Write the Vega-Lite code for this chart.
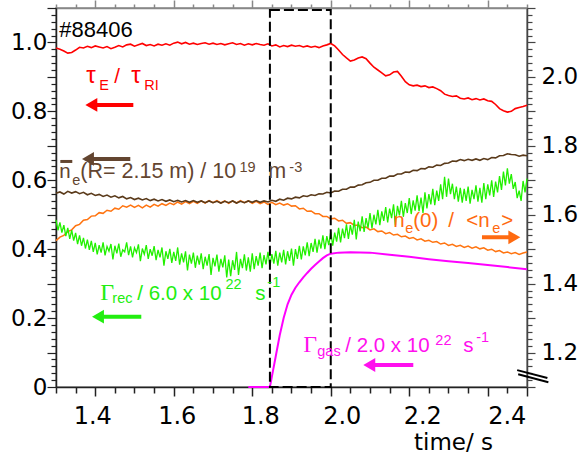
{
"$schema":"https://vega.github.io/schema/vega-lite/v6.json",
"width":471,"height":379,
"autosize":{"type":"none"},
"padding":{"left":56,"top":8,"right":52,"bottom":70},
"background":"white",
"config":{"view":{"stroke":"#888","strokeWidth":1.5},"axis":{"grid":false,"labelOverlap":false,"labelFlush":false,"labelBound":false}},
"datasets":{
"red":[{"t":1.30,"v":0.984},{"t":1.31,"v":0.980},{"t":1.32,"v":0.975},{"t":1.33,"v":0.969},{"t":1.34,"v":0.971},{"t":1.35,"v":0.978},{"t":1.36,"v":0.986},{"t":1.37,"v":0.984},{"t":1.38,"v":0.989},{"t":1.39,"v":0.985},{"t":1.40,"v":0.990},{"t":1.41,"v":0.987},{"t":1.42,"v":0.984},{"t":1.43,"v":0.988},{"t":1.44,"v":0.982},{"t":1.45,"v":0.986},{"t":1.46,"v":0.991},{"t":1.47,"v":0.987},{"t":1.48,"v":0.993},{"t":1.49,"v":0.995},{"t":1.50,"v":0.989},{"t":1.51,"v":0.993},{"t":1.52,"v":0.997},{"t":1.53,"v":0.991},{"t":1.54,"v":0.994},{"t":1.55,"v":0.990},{"t":1.56,"v":0.995},{"t":1.57,"v":0.992},{"t":1.58,"v":0.996},{"t":1.59,"v":0.992},{"t":1.60,"v":0.998},{"t":1.61,"v":1.001},{"t":1.62,"v":0.996},{"t":1.63,"v":1.000},{"t":1.64,"v":0.995},{"t":1.65,"v":0.998},{"t":1.66,"v":0.994},{"t":1.67,"v":0.997},{"t":1.68,"v":0.999},{"t":1.69,"v":0.995},{"t":1.70,"v":0.998},{"t":1.71,"v":0.994},{"t":1.72,"v":0.997},{"t":1.73,"v":0.993},{"t":1.74,"v":0.996},{"t":1.75,"v":0.999},{"t":1.76,"v":0.994},{"t":1.77,"v":0.997},{"t":1.78,"v":0.992},{"t":1.79,"v":0.996},{"t":1.80,"v":0.993},{"t":1.81,"v":0.997},{"t":1.82,"v":0.994},{"t":1.83,"v":0.992},{"t":1.84,"v":0.996},{"t":1.85,"v":0.990},{"t":1.86,"v":0.993},{"t":1.87,"v":0.987},{"t":1.88,"v":0.991},{"t":1.89,"v":0.988},{"t":1.90,"v":0.992},{"t":1.91,"v":0.989},{"t":1.92,"v":0.991},{"t":1.93,"v":0.987},{"t":1.94,"v":0.990},{"t":1.95,"v":0.986},{"t":1.96,"v":0.989},{"t":1.97,"v":0.985},{"t":1.98,"v":0.990},{"t":1.99,"v":0.993},{"t":2.00,"v":0.997},{"t":2.01,"v":0.990},{"t":2.02,"v":0.978},{"t":2.03,"v":0.965},{"t":2.04,"v":0.955},{"t":2.05,"v":0.946},{"t":2.06,"v":0.949},{"t":2.07,"v":0.955},{"t":2.08,"v":0.958},{"t":2.09,"v":0.953},{"t":2.10,"v":0.940},{"t":2.11,"v":0.928},{"t":2.12,"v":0.920},{"t":2.13,"v":0.912},{"t":2.14,"v":0.903},{"t":2.15,"v":0.906},{"t":2.16,"v":0.914},{"t":2.17,"v":0.916},{"t":2.18,"v":0.902},{"t":2.19,"v":0.886},{"t":2.20,"v":0.877},{"t":2.21,"v":0.874},{"t":2.22,"v":0.876},{"t":2.23,"v":0.872},{"t":2.24,"v":0.874},{"t":2.25,"v":0.869},{"t":2.26,"v":0.871},{"t":2.27,"v":0.866},{"t":2.28,"v":0.860},{"t":2.29,"v":0.850},{"t":2.30,"v":0.846},{"t":2.31,"v":0.843},{"t":2.32,"v":0.845},{"t":2.33,"v":0.838},{"t":2.34,"v":0.836},{"t":2.35,"v":0.839},{"t":2.36,"v":0.834},{"t":2.37,"v":0.837},{"t":2.38,"v":0.833},{"t":2.39,"v":0.836},{"t":2.40,"v":0.831},{"t":2.41,"v":0.829},{"t":2.42,"v":0.820},{"t":2.43,"v":0.808},{"t":2.44,"v":0.802},{"t":2.45,"v":0.798},{"t":2.46,"v":0.800},{"t":2.47,"v":0.808},{"t":2.48,"v":0.811},{"t":2.49,"v":0.814},{"t":2.50,"v":0.818}],
"brown":[{"t":1.30,"v":0.562},{"t":1.31,"v":0.566},{"t":1.32,"v":0.560},{"t":1.33,"v":0.568},{"t":1.34,"v":0.563},{"t":1.35,"v":0.567},{"t":1.36,"v":0.561},{"t":1.37,"v":0.565},{"t":1.38,"v":0.558},{"t":1.39,"v":0.562},{"t":1.40,"v":0.556},{"t":1.41,"v":0.559},{"t":1.42,"v":0.553},{"t":1.43,"v":0.557},{"t":1.44,"v":0.551},{"t":1.45,"v":0.555},{"t":1.46,"v":0.549},{"t":1.47,"v":0.553},{"t":1.48,"v":0.546},{"t":1.49,"v":0.550},{"t":1.50,"v":0.544},{"t":1.51,"v":0.548},{"t":1.52,"v":0.543},{"t":1.53,"v":0.547},{"t":1.54,"v":0.541},{"t":1.55,"v":0.545},{"t":1.56,"v":0.540},{"t":1.57,"v":0.544},{"t":1.58,"v":0.539},{"t":1.59,"v":0.543},{"t":1.60,"v":0.538},{"t":1.61,"v":0.542},{"t":1.62,"v":0.537},{"t":1.63,"v":0.541},{"t":1.64,"v":0.536},{"t":1.65,"v":0.541},{"t":1.66,"v":0.536},{"t":1.67,"v":0.540},{"t":1.68,"v":0.535},{"t":1.69,"v":0.540},{"t":1.70,"v":0.535},{"t":1.71,"v":0.539},{"t":1.72,"v":0.534},{"t":1.73,"v":0.539},{"t":1.74,"v":0.535},{"t":1.75,"v":0.540},{"t":1.76,"v":0.534},{"t":1.77,"v":0.539},{"t":1.78,"v":0.535},{"t":1.79,"v":0.540},{"t":1.80,"v":0.536},{"t":1.81,"v":0.541},{"t":1.82,"v":0.536},{"t":1.83,"v":0.540},{"t":1.84,"v":0.537},{"t":1.85,"v":0.542},{"t":1.86,"v":0.539},{"t":1.87,"v":0.545},{"t":1.88,"v":0.542},{"t":1.89,"v":0.548},{"t":1.90,"v":0.546},{"t":1.91,"v":0.551},{"t":1.92,"v":0.549},{"t":1.93,"v":0.555},{"t":1.94,"v":0.553},{"t":1.95,"v":0.558},{"t":1.96,"v":0.556},{"t":1.97,"v":0.561},{"t":1.98,"v":0.560},{"t":1.99,"v":0.565},{"t":2.00,"v":0.563},{"t":2.01,"v":0.569},{"t":2.02,"v":0.568},{"t":2.03,"v":0.574},{"t":2.04,"v":0.574},{"t":2.05,"v":0.580},{"t":2.06,"v":0.580},{"t":2.07,"v":0.586},{"t":2.08,"v":0.587},{"t":2.09,"v":0.593},{"t":2.10,"v":0.594},{"t":2.11,"v":0.600},{"t":2.12,"v":0.600},{"t":2.13,"v":0.606},{"t":2.14,"v":0.606},{"t":2.15,"v":0.612},{"t":2.16,"v":0.612},{"t":2.17,"v":0.618},{"t":2.18,"v":0.618},{"t":2.19,"v":0.624},{"t":2.20,"v":0.623},{"t":2.21,"v":0.629},{"t":2.22,"v":0.628},{"t":2.23,"v":0.634},{"t":2.24,"v":0.633},{"t":2.25,"v":0.639},{"t":2.26,"v":0.638},{"t":2.27,"v":0.644},{"t":2.28,"v":0.643},{"t":2.29,"v":0.649},{"t":2.30,"v":0.650},{"t":2.31,"v":0.656},{"t":2.32,"v":0.655},{"t":2.33,"v":0.660},{"t":2.34,"v":0.657},{"t":2.35,"v":0.661},{"t":2.36,"v":0.658},{"t":2.37,"v":0.662},{"t":2.38,"v":0.658},{"t":2.39,"v":0.663},{"t":2.40,"v":0.660},{"t":2.41,"v":0.666},{"t":2.42,"v":0.665},{"t":2.43,"v":0.671},{"t":2.44,"v":0.672},{"t":2.45,"v":0.677},{"t":2.46,"v":0.675},{"t":2.47,"v":0.674},{"t":2.48,"v":0.670},{"t":2.49,"v":0.673},{"t":2.50,"v":0.671}],
"orange":[{"t":1.30,"v":1.525},{"t":1.31,"v":1.535},{"t":1.32,"v":1.540},{"t":1.33,"v":1.551},{"t":1.34,"v":1.556},{"t":1.35,"v":1.568},{"t":1.36,"v":1.572},{"t":1.37,"v":1.584},{"t":1.38,"v":1.586},{"t":1.39,"v":1.596},{"t":1.40,"v":1.597},{"t":1.41,"v":1.606},{"t":1.42,"v":1.604},{"t":1.43,"v":1.613},{"t":1.44,"v":1.610},{"t":1.45,"v":1.619},{"t":1.46,"v":1.616},{"t":1.47,"v":1.626},{"t":1.48,"v":1.622},{"t":1.49,"v":1.628},{"t":1.50,"v":1.621},{"t":1.51,"v":1.627},{"t":1.52,"v":1.620},{"t":1.53,"v":1.628},{"t":1.54,"v":1.622},{"t":1.55,"v":1.630},{"t":1.56,"v":1.625},{"t":1.57,"v":1.632},{"t":1.58,"v":1.627},{"t":1.59,"v":1.634},{"t":1.60,"v":1.629},{"t":1.61,"v":1.637},{"t":1.62,"v":1.631},{"t":1.63,"v":1.638},{"t":1.64,"v":1.632},{"t":1.65,"v":1.639},{"t":1.66,"v":1.633},{"t":1.67,"v":1.640},{"t":1.68,"v":1.634},{"t":1.69,"v":1.641},{"t":1.70,"v":1.635},{"t":1.71,"v":1.641},{"t":1.72,"v":1.634},{"t":1.73,"v":1.640},{"t":1.74,"v":1.633},{"t":1.75,"v":1.640},{"t":1.76,"v":1.634},{"t":1.77,"v":1.641},{"t":1.78,"v":1.635},{"t":1.79,"v":1.640},{"t":1.80,"v":1.633},{"t":1.81,"v":1.639},{"t":1.82,"v":1.632},{"t":1.83,"v":1.637},{"t":1.84,"v":1.630},{"t":1.85,"v":1.636},{"t":1.86,"v":1.629},{"t":1.87,"v":1.634},{"t":1.88,"v":1.628},{"t":1.89,"v":1.632},{"t":1.90,"v":1.625},{"t":1.91,"v":1.626},{"t":1.92,"v":1.617},{"t":1.93,"v":1.619},{"t":1.94,"v":1.610},{"t":1.95,"v":1.611},{"t":1.96,"v":1.603},{"t":1.97,"v":1.603},{"t":1.98,"v":1.595},{"t":1.99,"v":1.595},{"t":2.00,"v":1.588},{"t":2.01,"v":1.590},{"t":2.02,"v":1.582},{"t":2.03,"v":1.584},{"t":2.04,"v":1.575},{"t":2.05,"v":1.577},{"t":2.06,"v":1.569},{"t":2.07,"v":1.570},{"t":2.08,"v":1.562},{"t":2.09,"v":1.564},{"t":2.10,"v":1.556},{"t":2.11,"v":1.559},{"t":2.12,"v":1.551},{"t":2.13,"v":1.553},{"t":2.14,"v":1.545},{"t":2.15,"v":1.548},{"t":2.16,"v":1.541},{"t":2.17,"v":1.543},{"t":2.18,"v":1.536},{"t":2.19,"v":1.538},{"t":2.20,"v":1.531},{"t":2.21,"v":1.534},{"t":2.22,"v":1.527},{"t":2.23,"v":1.530},{"t":2.24,"v":1.523},{"t":2.25,"v":1.526},{"t":2.26,"v":1.520},{"t":2.27,"v":1.522},{"t":2.28,"v":1.515},{"t":2.29,"v":1.518},{"t":2.30,"v":1.511},{"t":2.31,"v":1.514},{"t":2.32,"v":1.508},{"t":2.33,"v":1.511},{"t":2.34,"v":1.505},{"t":2.35,"v":1.509},{"t":2.36,"v":1.503},{"t":2.37,"v":1.507},{"t":2.38,"v":1.501},{"t":2.39,"v":1.504},{"t":2.40,"v":1.497},{"t":2.41,"v":1.500},{"t":2.42,"v":1.493},{"t":2.43,"v":1.496},{"t":2.44,"v":1.489},{"t":2.45,"v":1.492},{"t":2.46,"v":1.487},{"t":2.47,"v":1.490},{"t":2.48,"v":1.485},{"t":2.49,"v":1.489},{"t":2.50,"v":1.492}],
"green":[{"t":1.300,"v":0.485},{"t":1.305,"v":0.455},{"t":1.310,"v":0.478},{"t":1.315,"v":0.448},{"t":1.320,"v":0.470},{"t":1.325,"v":0.438},{"t":1.330,"v":0.462},{"t":1.335,"v":0.430},{"t":1.340,"v":0.455},{"t":1.345,"v":0.425},{"t":1.350,"v":0.447},{"t":1.355,"v":0.415},{"t":1.360,"v":0.440},{"t":1.365,"v":0.410},{"t":1.370,"v":0.433},{"t":1.375,"v":0.402},{"t":1.380,"v":0.428},{"t":1.385,"v":0.398},{"t":1.390,"v":0.424},{"t":1.395,"v":0.392},{"t":1.400,"v":0.418},{"t":1.405,"v":0.385},{"t":1.410,"v":0.412},{"t":1.415,"v":0.390},{"t":1.420,"v":0.420},{"t":1.425,"v":0.382},{"t":1.430,"v":0.408},{"t":1.435,"v":0.394},{"t":1.440,"v":0.415},{"t":1.445,"v":0.370},{"t":1.450,"v":0.410},{"t":1.455,"v":0.388},{"t":1.460,"v":0.416},{"t":1.465,"v":0.378},{"t":1.470,"v":0.398},{"t":1.475,"v":0.392},{"t":1.480,"v":0.420},{"t":1.485,"v":0.383},{"t":1.490,"v":0.408},{"t":1.495,"v":0.376},{"t":1.500,"v":0.404},{"t":1.505,"v":0.390},{"t":1.510,"v":0.414},{"t":1.515,"v":0.365},{"t":1.520,"v":0.402},{"t":1.525,"v":0.385},{"t":1.530,"v":0.412},{"t":1.535,"v":0.372},{"t":1.540,"v":0.400},{"t":1.545,"v":0.381},{"t":1.550,"v":0.409},{"t":1.555,"v":0.368},{"t":1.560,"v":0.398},{"t":1.565,"v":0.376},{"t":1.570,"v":0.405},{"t":1.575,"v":0.352},{"t":1.580,"v":0.394},{"t":1.585,"v":0.372},{"t":1.590,"v":0.401},{"t":1.595,"v":0.360},{"t":1.600,"v":0.392},{"t":1.605,"v":0.366},{"t":1.610,"v":0.405},{"t":1.615,"v":0.355},{"t":1.620,"v":0.388},{"t":1.625,"v":0.362},{"t":1.630,"v":0.394},{"t":1.635,"v":0.338},{"t":1.640,"v":0.384},{"t":1.645,"v":0.358},{"t":1.650,"v":0.390},{"t":1.655,"v":0.346},{"t":1.660,"v":0.381},{"t":1.665,"v":0.355},{"t":1.670,"v":0.388},{"t":1.675,"v":0.342},{"t":1.680,"v":0.378},{"t":1.685,"v":0.352},{"t":1.690,"v":0.386},{"t":1.695,"v":0.325},{"t":1.700,"v":0.375},{"t":1.705,"v":0.350},{"t":1.710,"v":0.384},{"t":1.715,"v":0.335},{"t":1.720,"v":0.372},{"t":1.725,"v":0.347},{"t":1.730,"v":0.382},{"t":1.735,"v":0.318},{"t":1.740,"v":0.370},{"t":1.745,"v":0.322},{"t":1.750,"v":0.368},{"t":1.755,"v":0.340},{"t":1.760,"v":0.392},{"t":1.765,"v":0.325},{"t":1.770,"v":0.372},{"t":1.775,"v":0.345},{"t":1.780,"v":0.385},{"t":1.785,"v":0.338},{"t":1.790,"v":0.376},{"t":1.795,"v":0.335},{"t":1.800,"v":0.388},{"t":1.805,"v":0.342},{"t":1.810,"v":0.380},{"t":1.815,"v":0.352},{"t":1.820,"v":0.390},{"t":1.825,"v":0.345},{"t":1.830,"v":0.383},{"t":1.835,"v":0.356},{"t":1.840,"v":0.392},{"t":1.845,"v":0.350},{"t":1.850,"v":0.386},{"t":1.855,"v":0.358},{"t":1.860,"v":0.395},{"t":1.865,"v":0.352},{"t":1.870,"v":0.390},{"t":1.875,"v":0.362},{"t":1.880,"v":0.398},{"t":1.885,"v":0.356},{"t":1.890,"v":0.394},{"t":1.895,"v":0.366},{"t":1.900,"v":0.402},{"t":1.905,"v":0.352},{"t":1.910,"v":0.400},{"t":1.915,"v":0.372},{"t":1.920,"v":0.410},{"t":1.925,"v":0.370},{"t":1.930,"v":0.408},{"t":1.935,"v":0.382},{"t":1.940,"v":0.420},{"t":1.945,"v":0.380},{"t":1.950,"v":0.418},{"t":1.955,"v":0.392},{"t":1.960,"v":0.430},{"t":1.965,"v":0.390},{"t":1.970,"v":0.428},{"t":1.975,"v":0.402},{"t":1.980,"v":0.440},{"t":1.985,"v":0.400},{"t":1.990,"v":0.438},{"t":1.995,"v":0.412},{"t":2.000,"v":0.450},{"t":2.005,"v":0.410},{"t":2.010,"v":0.448},{"t":2.015,"v":0.422},{"t":2.020,"v":0.462},{"t":2.025,"v":0.420},{"t":2.030,"v":0.460},{"t":2.035,"v":0.432},{"t":2.040,"v":0.472},{"t":2.045,"v":0.430},{"t":2.050,"v":0.470},{"t":2.055,"v":0.442},{"t":2.060,"v":0.485},{"t":2.065,"v":0.428},{"t":2.070,"v":0.480},{"t":2.075,"v":0.452},{"t":2.080,"v":0.495},{"t":2.085,"v":0.450},{"t":2.090,"v":0.490},{"t":2.095,"v":0.462},{"t":2.100,"v":0.505},{"t":2.105,"v":0.460},{"t":2.110,"v":0.500},{"t":2.115,"v":0.472},{"t":2.120,"v":0.514},{"t":2.125,"v":0.470},{"t":2.130,"v":0.510},{"t":2.135,"v":0.482},{"t":2.140,"v":0.522},{"t":2.145,"v":0.478},{"t":2.150,"v":0.518},{"t":2.155,"v":0.490},{"t":2.160,"v":0.530},{"t":2.165,"v":0.470},{"t":2.170,"v":0.526},{"t":2.175,"v":0.498},{"t":2.180,"v":0.540},{"t":2.185,"v":0.494},{"t":2.190,"v":0.534},{"t":2.195,"v":0.505},{"t":2.200,"v":0.548},{"t":2.205,"v":0.502},{"t":2.210,"v":0.542},{"t":2.215,"v":0.512},{"t":2.220,"v":0.556},{"t":2.225,"v":0.510},{"t":2.230,"v":0.550},{"t":2.235,"v":0.505},{"t":2.240,"v":0.565},{"t":2.245,"v":0.518},{"t":2.250,"v":0.560},{"t":2.255,"v":0.530},{"t":2.260,"v":0.575},{"t":2.265,"v":0.528},{"t":2.270,"v":0.570},{"t":2.275,"v":0.540},{"t":2.280,"v":0.588},{"t":2.285,"v":0.545},{"t":2.290,"v":0.610},{"t":2.295,"v":0.552},{"t":2.300,"v":0.605},{"t":2.305,"v":0.560},{"t":2.310,"v":0.590},{"t":2.315,"v":0.545},{"t":2.320,"v":0.582},{"t":2.325,"v":0.538},{"t":2.330,"v":0.578},{"t":2.335,"v":0.535},{"t":2.340,"v":0.575},{"t":2.345,"v":0.540},{"t":2.350,"v":0.582},{"t":2.355,"v":0.532},{"t":2.360,"v":0.572},{"t":2.365,"v":0.545},{"t":2.370,"v":0.585},{"t":2.375,"v":0.538},{"t":2.380,"v":0.578},{"t":2.385,"v":0.535},{"t":2.390,"v":0.592},{"t":2.395,"v":0.545},{"t":2.400,"v":0.588},{"t":2.405,"v":0.556},{"t":2.410,"v":0.600},{"t":2.415,"v":0.552},{"t":2.420,"v":0.596},{"t":2.425,"v":0.565},{"t":2.430,"v":0.612},{"t":2.435,"v":0.572},{"t":2.440,"v":0.625},{"t":2.445,"v":0.585},{"t":2.450,"v":0.635},{"t":2.455,"v":0.590},{"t":2.460,"v":0.618},{"t":2.465,"v":0.575},{"t":2.470,"v":0.595},{"t":2.475,"v":0.548},{"t":2.480,"v":0.570},{"t":2.485,"v":0.540},{"t":2.490,"v":0.598},{"t":2.495,"v":0.565},{"t":2.500,"v":0.605}],
"magenta":[{"t":1.79,"v":0},{"t":1.845,"v":0},{"t":1.85,"v":0.03},{"t":1.86,"v":0.09},{"t":1.87,"v":0.15},{"t":1.88,"v":0.2},{"t":1.89,"v":0.24},{"t":1.90,"v":0.268},{"t":1.91,"v":0.288},{"t":1.92,"v":0.304},{"t":1.93,"v":0.318},{"t":1.94,"v":0.331},{"t":1.95,"v":0.343},{"t":1.96,"v":0.354},{"t":1.97,"v":0.364},{"t":1.98,"v":0.374},{"t":1.99,"v":0.382},{"t":2.00,"v":0.387},{"t":2.02,"v":0.390},{"t":2.05,"v":0.391},{"t":2.10,"v":0.390},{"t":2.15,"v":0.384},{"t":2.20,"v":0.378},{"t":2.25,"v":0.371},{"t":2.30,"v":0.365},{"t":2.35,"v":0.360},{"t":2.40,"v":0.354},{"t":2.45,"v":0.348},{"t":2.50,"v":0.342}],
"window":[{"t":1.845,"t2":2.0,"v":0,"v2":1.0943}],
"breaks":[{"t":2.475,"t2":2.552,"v":0.049,"v2":0.026},{"t":2.4775,"t2":2.5545,"v":0.037,"v2":0.014}],
"arrows":[{"s":"tau","t":1.390,"t2":1.497,"v":0.8186},{"s":"ne","t":1.3815,"t2":1.4893,"v":0.6618},{"s":"rec","t":1.407,"t2":1.5173,"v":0.2041},{"s":"gas","t":2.0982,"t2":2.2103,"v":0.0639},{"s":"peak","t":2.3853,"t2":2.4677,"v":0.4345}],
"headsL":[{"s":"tau","t":1.390,"v":0.8186},{"s":"ne","t":1.3815,"v":0.6618},{"s":"rec","t":1.407,"v":0.2041},{"s":"gas","t":2.0982,"v":0.0639}],
"headsR":[{"s":"peak","t":2.4677,"v":0.4345}],
"overbar":[{"s":"ne","t":1.311,"t2":1.3415,"v":0.6546}],
"tmain":[{"s":"tau","txt":"/","t":1.4485,"v":0.8824},{"s":"ne","txt":"n","t":1.3084,"v":0.6067},{"s":"peak","txt":"n","t":2.1594,"v":0.4644},{"s":"peak","txt":"(0)","t":2.2103,"v":0.4644},{"s":"peak","txt":"/","t":2.2995,"v":0.4644},{"s":"peak","txt":"<n","t":2.3453,"v":0.4644},{"s":"peak","txt":">","t":2.4344,"v":0.4644},{"s":"rec","txt":"/ 6.0 x 10","t":1.5071,"v":0.2525},{"s":"rec","txt":"s","t":1.8078,"v":0.2525},{"s":"gas","txt":"/ 2.0 x 10","t":2.037,"v":0.1016},{"s":"gas","txt":"s","t":2.3376,"v":0.1016}],
"tbrown":[{"s":"ne","txt":"(R= 2.15 m) / 10","t":1.3619,"v":0.6067},{"s":"ne","txt":"m","t":1.8409,"v":0.6067}],
"tsub":[{"s":"tau","txt":"E","t":1.4103,"v":0.8621},{"s":"tau","txt":"RI","t":1.525,"v":0.8621},{"s":"ne","txt":"e","t":1.3415,"v":0.5864},{"s":"peak","txt":"e","t":2.1899,"v":0.447},{"s":"peak","txt":"e","t":2.4115,"v":0.447},{"s":"rec","txt":"rec","t":1.4435,"v":0.2438},{"s":"gas","txt":"gas","t":1.9657,"v":0.09}],
"tsup":[{"s":"ne","txt":"19","t":1.7673,"v":0.6241},{"s":"ne","txt":"-3","t":1.8944,"v":0.6241},{"s":"rec","txt":"22","t":1.7318,"v":0.2845},{"s":"rec","txt":"-1","t":1.8384,"v":0.2903},{"s":"gas","txt":"22","t":2.2664,"v":0.1219},{"s":"gas","txt":"-1","t":2.3707,"v":0.1306}],
"ttau":[{"s":"tau","txt":"τ","t":1.3772,"v":0.8824},{"s":"tau","txt":"τ","t":1.4918,"v":0.8824}],
"tgamma":[{"s":"rec","txt":"Γ","t":1.4129,"v":0.2525},{"s":"gas","txt":"Γ","t":1.930,"v":0.1016}],
"tshot":[{"s":"frame","txt":"#88406","t":1.3084,"v":1.016}]
},
"layer":[
{"data":{"name":"orange"},"mark":{"type":"line","color":"#ff7410","strokeWidth":1.5},
 "encoding":{
  "x":{"field":"t","type":"quantitative","scale":{"domain":[1.3,2.5],"nice":false,"zero":false},
   "axis":{"orient":"top","values":[1.3,1.35,1.4,1.45,1.5,1.55,1.6,1.65,1.7,1.75,1.8,1.85,1.9,1.95,2.0,2.05,2.1,2.15,2.2,2.25,2.3,2.35,2.4,2.45,2.5],"labelExpr":"''","title":null,"domainColor":"#888","domainWidth":1.5,"tickColor":"#888","tickWidth":1.5,
    "tickSize":{"condition":{"test":"abs(datum.value*5-round(datum.value*5))<0.01","value":8},"value":4}}},
  "y":{"field":"v","type":"quantitative","scale":{"domain":[1.1,2.2],"nice":false,"zero":false},
   "axis":{"orient":"right","values":[1.1,1.12,1.14,1.16,1.18,1.2,1.22,1.24,1.26,1.28,1.3,1.32,1.34,1.36,1.38,1.4,1.42,1.44,1.46,1.48,1.5,1.52,1.54,1.56,1.58,1.6,1.62,1.64,1.66,1.68,1.7,1.72,1.74,1.76,1.78,1.8,1.82,1.84,1.86,1.88,1.9,1.92,1.94,1.96,1.98,2.0,2.02,2.04,2.06,2.08,2.1,2.12,2.14,2.16,2.18,2.2],
    "title":null,"domainColor":"#444","domainWidth":1.5,"tickColor":"#444","tickWidth":1.2,
    "tickSize":{"condition":{"test":"abs(datum.value*10-round(datum.value*10))<0.01","value":8},"value":5},
    "labelExpr":"abs(datum.value*5-round(datum.value*5))<0.01 && datum.value>1.15 && datum.value<2.1 ? format(datum.value,'.1f') : ''",
    "labelFont":"DejaVu Sans","labelFontSize":23,"labelColor":"#000","labelPadding":6,"labelOverlap":false,"labelFlush":false,"labelBound":false}}
 }},
{"data":{"name":"green"},"mark":{"type":"line","color":"#22f000","strokeWidth":1.3},
  "encoding":{
   "x":{"field":"t","type":"quantitative","scale":{"domain":[1.3,2.5],"nice":false,"zero":false},
    "axis":{"orient":"bottom","values":[1.3,1.35,1.4,1.45,1.5,1.55,1.6,1.65,1.7,1.75,1.8,1.85,1.9,1.95,2.0,2.05,2.1,2.15,2.2,2.25,2.3,2.35,2.4,2.45,2.5],
     "title":"time/ s","titleFont":"DejaVu Sans","titleFontSize":23,"titleFontWeight":"normal","titleColor":"#000","titleX":397,"titleY":62,"titleAlign":"center","titleBaseline":"alphabetic",
     "domainColor":"#222","domainWidth":1.5,"tickColor":"#222","tickWidth":1.5,
     "tickSize":{"condition":{"test":"abs(datum.value*5-round(datum.value*5))<0.01 || datum.value>2.49","value":9},"value":6},
     "labelExpr":"abs(datum.value*5-round(datum.value*5))<0.01 ? format(datum.value,'.1f') : ''",
     "labelOffset":{"condition":[{"test":"abs(datum.value-1.4)<0.001","value":-3},{"test":"abs(datum.value-1.6)<0.001","value":3},{"test":"abs(datum.value-1.8)<0.001","value":8},{"test":"abs(datum.value-2.0)<0.001","value":11},{"test":"abs(datum.value-2.2)<0.001","value":13},{"test":"abs(datum.value-2.4)<0.001","value":19}],"value":0},
     "labelFont":"DejaVu Sans","labelFontSize":24,"labelColor":"#000","labelPadding":8,"labelOverlap":false,"labelFlush":false,"labelBound":false}},
   "y":{"field":"v","type":"quantitative","scale":{"domain":[0,1.1],"nice":false,"zero":false},
    "axis":{"orient":"left","values":[0,0.02,0.04,0.06,0.08,0.1,0.12,0.14,0.16,0.18,0.2,0.22,0.24,0.26,0.28,0.3,0.32,0.34,0.36,0.38,0.4,0.42,0.44,0.46,0.48,0.5,0.52,0.54,0.56,0.58,0.6,0.62,0.64,0.66,0.68,0.7,0.72,0.74,0.76,0.78,0.8,0.82,0.84,0.86,0.88,0.9,0.92,0.94,0.96,0.98,1.0,1.02,1.04,1.06,1.08,1.1],
     "title":null,"domainColor":"#222","domainWidth":1.5,"tickColor":"#222","tickWidth":1.2,
     "tickSize":{"condition":{"test":"abs(datum.value*10-round(datum.value*10))<0.01","value":9},"value":5},
     "labelExpr":"abs(datum.value*5-round(datum.value*5))<0.01 && datum.value<1.05 ? (datum.value==0 ? '0' : format(datum.value,'.1f')) : ''",
     "labelFont":"DejaVu Sans","labelFontSize":23,"labelColor":"#000","labelPadding":0,"labelOverlap":false,"labelFlush":false,"labelBound":false}}
  }},
{"layer":[
 {"data":{"name":"brown"},"mark":{"type":"line","color":"#5a3a1a","strokeWidth":1.6},"encoding":{"x":{"field":"t","type":"quantitative","scale":{"domain":[1.3,2.5],"nice":false,"zero":false},"axis":null},"y":{"field":"v","type":"quantitative","scale":{"domain":[0,1.1],"nice":false,"zero":false},"axis":null}}},
 {"data":{"name":"red"},"mark":{"type":"line","color":"#ff0000","strokeWidth":1.6},"encoding":{"x":{"field":"t","type":"quantitative","axis":null},"y":{"field":"v","type":"quantitative","axis":null}}},
 {"data":{"name":"magenta"},"mark":{"type":"line","color":"#ff00ff","strokeWidth":2},"encoding":{"x":{"field":"t","type":"quantitative","axis":null},"y":{"field":"v","type":"quantitative","axis":null}}},
 {"data":{"name":"window"},"mark":{"type":"rect","filled":false,"fill":null,"stroke":"#000","strokeWidth":2,"strokeDash":[10,4]},
  "encoding":{"x":{"field":"t","type":"quantitative","axis":null},"x2":{"field":"t2"},"y":{"field":"v","type":"quantitative","axis":null},"y2":{"field":"v2"}}},
 {"data":{"name":"breaks"},"mark":{"type":"rule","color":"#000","strokeWidth":2},
  "encoding":{"x":{"field":"t","type":"quantitative","axis":null},"x2":{"field":"t2"},"y":{"field":"v","type":"quantitative","axis":null},"y2":{"field":"v2"}}},
 {"data":{"name":"arrows"},"mark":{"type":"rule","strokeWidth":4},
  "encoding":{"x":{"field":"t","type":"quantitative","axis":null},"x2":{"field":"t2"},"y":{"field":"v","type":"quantitative","axis":null},
   "color":{"field":"s","type":"nominal","scale":{"domain":["tau","ne","peak","rec","gas","frame"],"range":["#ff0000","#634530","#ff6a10","#22ee10","#ff10ee","#000000"]},"legend":null}}},
 {"data":{"name":"overbar"},"mark":{"type":"rule","strokeWidth":3},
  "encoding":{"x":{"field":"t","type":"quantitative","axis":null},"x2":{"field":"t2"},"y":{"field":"v","type":"quantitative","axis":null},"color":{"field":"s","type":"nominal","legend":null}}},
 {"data":{"name":"headsL"},"mark":{"type":"point","shape":"triangle-left","filled":true,"size":190,"opacity":1,"strokeWidth":0},
  "encoding":{"x":{"field":"t","type":"quantitative","axis":null},"y":{"field":"v","type":"quantitative","axis":null},"color":{"field":"s","type":"nominal","legend":null}}},
 {"data":{"name":"headsR"},"mark":{"type":"point","shape":"triangle-right","filled":true,"size":190,"opacity":1,"strokeWidth":0},
  "encoding":{"x":{"field":"t","type":"quantitative","axis":null},"y":{"field":"v","type":"quantitative","axis":null},"color":{"field":"s","type":"nominal","legend":null}}},
 {"data":{"name":"tmain"},"mark":{"type":"text","align":"left","baseline":"alphabetic","font":"Liberation Sans","fontSize":20.5},
  "encoding":{"x":{"field":"t","type":"quantitative","axis":null},"y":{"field":"v","type":"quantitative","axis":null},"text":{"field":"txt"},"color":{"field":"s","type":"nominal","legend":null}}},
 {"data":{"name":"tbrown"},"mark":{"type":"text","align":"left","baseline":"alphabetic","font":"Liberation Sans","fontSize":21.5},
  "encoding":{"x":{"field":"t","type":"quantitative","axis":null},"y":{"field":"v","type":"quantitative","axis":null},"text":{"field":"txt"},"color":{"field":"s","type":"nominal","legend":null}}},
 {"data":{"name":"tsub"},"mark":{"type":"text","align":"left","baseline":"alphabetic","font":"Liberation Sans","fontSize":14.5},
  "encoding":{"x":{"field":"t","type":"quantitative","axis":null},"y":{"field":"v","type":"quantitative","axis":null},"text":{"field":"txt"},"color":{"field":"s","type":"nominal","legend":null}}},
 {"data":{"name":"tsup"},"mark":{"type":"text","align":"left","baseline":"alphabetic","font":"Liberation Sans","fontSize":14.5},
  "encoding":{"x":{"field":"t","type":"quantitative","axis":null},"y":{"field":"v","type":"quantitative","axis":null},"text":{"field":"txt"},"color":{"field":"s","type":"nominal","legend":null}}},
 {"data":{"name":"ttau"},"mark":{"type":"text","align":"left","baseline":"alphabetic","font":"Liberation Sans","fontSize":24},
  "encoding":{"x":{"field":"t","type":"quantitative","axis":null},"y":{"field":"v","type":"quantitative","axis":null},"text":{"field":"txt"},"color":{"field":"s","type":"nominal","legend":null}}},
 {"data":{"name":"tgamma"},"mark":{"type":"text","align":"left","baseline":"alphabetic","font":"Liberation Serif","fontSize":24},
  "encoding":{"x":{"field":"t","type":"quantitative","axis":null},"y":{"field":"v","type":"quantitative","axis":null},"text":{"field":"txt"},"color":{"field":"s","type":"nominal","legend":null}}},
 {"data":{"name":"tshot"},"mark":{"type":"text","align":"left","baseline":"alphabetic","font":"Liberation Sans","fontSize":22},
  "encoding":{"x":{"field":"t","type":"quantitative","axis":null},"y":{"field":"v","type":"quantitative","axis":null},"text":{"field":"txt"},"color":{"field":"s","type":"nominal","legend":null}}}
 ]}
],
"resolve":{"scale":{"x":"independent","y":"independent"},"axis":{"x":"independent","y":"independent"}}
}
